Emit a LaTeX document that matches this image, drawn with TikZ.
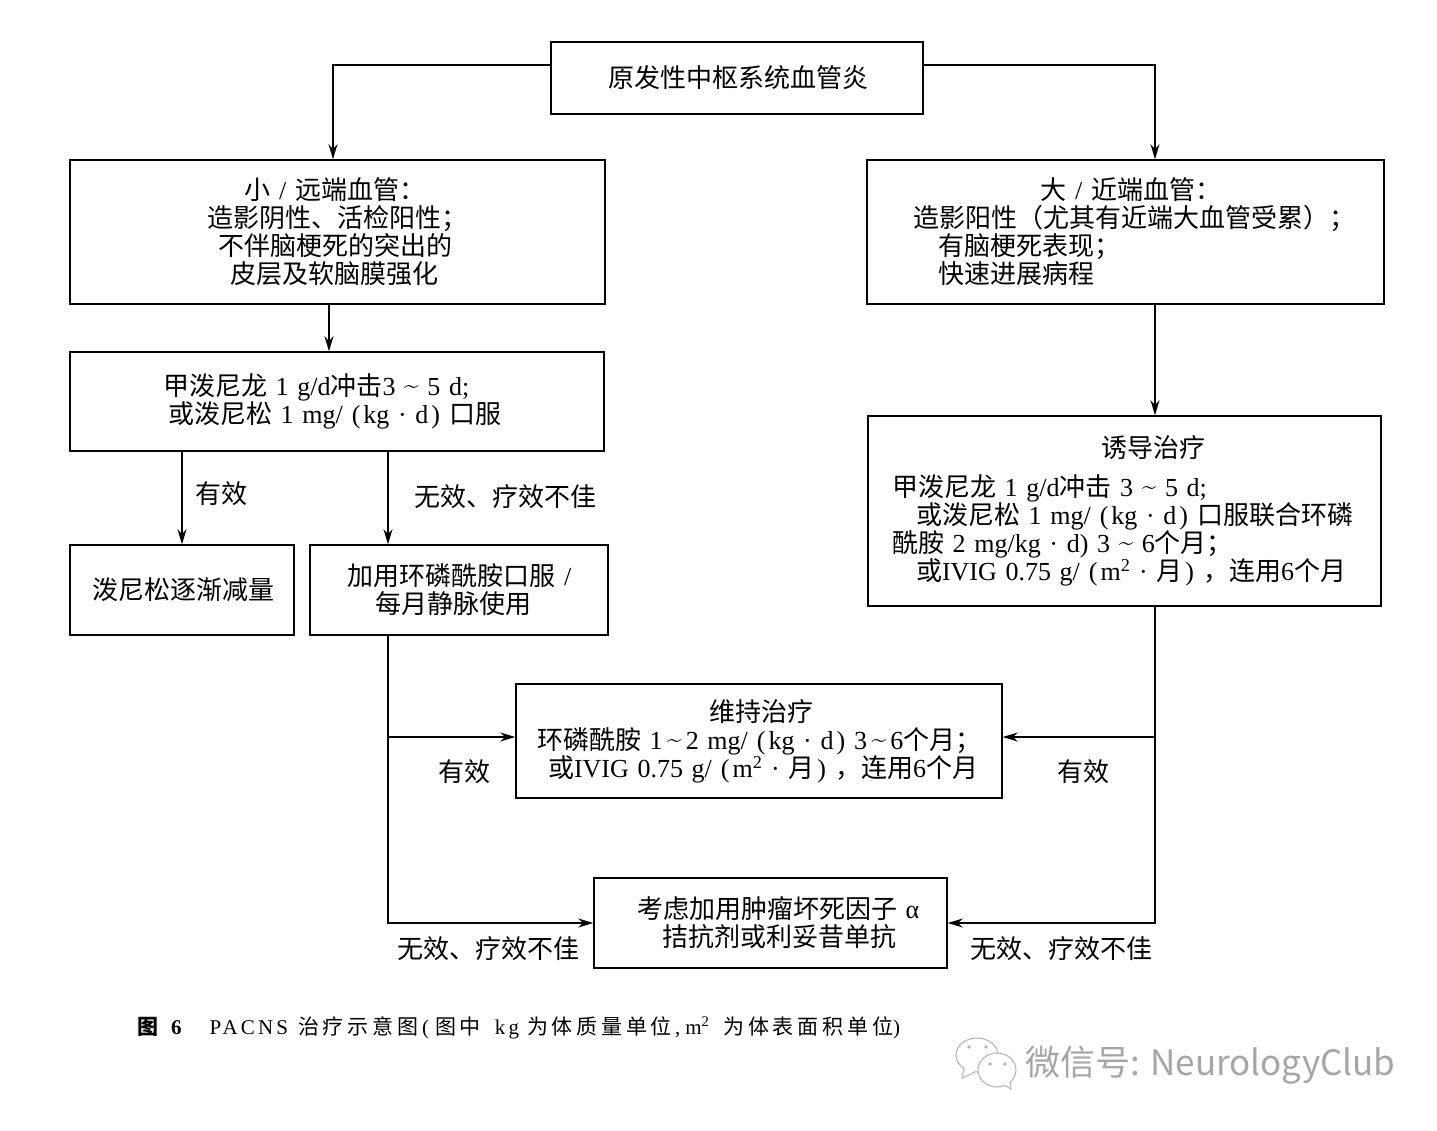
\documentclass[tikz,border=0pt]{standalone}
\usepackage{fontspec}
\usepackage{tikz}
\usetikzlibrary{arrows.meta}
\newfontfamily\cjk{Noto Sans CJK SC}
\newfontfamily\capcjk[LetterSpace=18]{Noto Sans CJK SC}
\newfontfamily\caplat[LetterSpace=15]{Liberation Serif}
\newfontfamily\serif{Liberation Serif}
\newcommand{\la}[1]{{\serif #1}}
\newcommand{\ind}[1]{\hspace*{#1pt}}
\newcommand{\tl}{{\rmfamily\raisebox{2pt}{\textasciitilde}}}
\newcommand{\sla}{\hspace{9pt}\la{/}\hspace{9pt}}
\newcommand{\lp}{\hspace{9pt}\la{(}\hspace{3pt}}
\newcommand{\rp}{\hspace{3pt}\la{)}\hspace{9pt}}
\tikzset{
    box/.style={draw,line width=1.5pt,inner xsep=0pt,inner ysep=0pt,align=left,font=\cjk\fontsize{26}{28}\selectfont},
    lbl/.style={inner sep=0pt,font=\cjk\fontsize{26}{28}\selectfont},
    arr/.style={line width=1.5pt,-{Stealth[length=15pt,width=9pt]}},
    bub/.style={draw=black!30,line width=1pt,fill=white}
}
\begin{document}
\begin{tikzpicture}[x=1pt,y=-1pt]
    \useasboundingbox (0,0) rectangle (1437,1131);
    \node[box,minimum height=72pt,text width=372pt] (top) at (737,78) {\ind{57}原发性中枢系统血管炎};
    \node[box,minimum height=144pt,text width=535pt] (small) at (337.5,232) {\ind{174}小\sla 远端血管：\\\ind{137}造影阴性、活检阳性；\\\ind{148}不伴脑梗死的突出的\\\ind{160}皮层及软脑膜强化};
    \node[box,minimum height=144pt,text width=517pt] (large) at (1125.5,232) {\ind{173}大\sla 近端血管：\\\ind{46}造影阳性（尤其有近端大血管受累）；\\\ind{71}有脑梗死表现；\\\ind{71}快速进展病程};
    \node[box,minimum height=99pt,text width=534pt] (methyl) at (337,401.5) {\ind{93}甲泼尼龙\la{ 1 g/d}冲击\la{3 \tl\ 5 d;}\\\ind{98}或泼尼松\la{ 1 mg/}\lp\la{kg · d}\rp 口服};
    \node[box,minimum height=90pt,text width=224pt] (taper) at (182,590) {\ind{22}泼尼松逐渐减量};
    \node[box,minimum height=90pt,text width=298pt] (cyc) at (459,590) {\ind{37}加用环磷酰胺口服\sla\\\ind{65}每月静脉使用};
    \node[box,minimum height=190pt,text width=513pt] (induct) at (1124.5,511) {\ind{233}诱导治疗\\[11pt]\ind{24}甲泼尼龙\la{ 1 g/d}冲击\la{ 3 \tl\ 5 d;}\\\ind{48}或泼尼松\la{ 1 mg/}\lp\la{kg · d}\rp 口服联合环磷\\\ind{24}酰胺\la{ 2 mg/kg · d) 3 \tl\ 6}个月；\\\ind{48}或\la{IVIG 0.75 g/}\lp\la{m\textsuperscript{2} · }月\rp，连用\la{6}个月};
    \node[box,minimum height=114pt,text width=486pt] (maint) at (759,741) {\ind{193}维持治疗\\\ind{21}环磷酰胺\la{ 1\,\tl\,2 mg/}\lp\la{kg · d}\rp\la{3\,\tl\,6}个月；\\\ind{32}或\la{IVIG 0.75 g/}\lp\la{m\textsuperscript{2} · }月\rp，连用\la{6}个月};
    \node[box,minimum height=90pt,text width=353pt] (tnf) at (770.5,923) {\ind{43}考虑加用肿瘤坏死因子\la{ α}\\\ind{68}拮抗剂或利妥昔单抗};
    \coordinate (jl) at (388,737);
    \coordinate (jr) at (1155,737);
    \draw[arr] ([yshift=13pt]top.west) -| ([xshift=-4.5pt]small.north);
    \draw[arr] ([yshift=13pt]top.east) -| ([xshift=29.5pt]large.north);
    \draw[arr] ([xshift=-8.5pt]small.south) -- ([xshift=-8pt]methyl.north);
    \draw[arr] ([xshift=29.5pt]large.south) -- ([xshift=30.5pt]induct.north);
    \draw[arr] (taper.north |- methyl.south) -- (taper.north);
    \draw[arr] ([xshift=-71pt]cyc.north |- methyl.south) -- ([xshift=-71pt]cyc.north);
    \draw[arr] ([xshift=-71pt]cyc.south) |- (tnf.west);
    \draw[arr] ([xshift=30.5pt]induct.south) |- (tnf.east);
    \draw[arr] (jl) -- ([yshift=4pt]maint.west);
    \draw[arr] (jr) -- ([yshift=4pt]maint.east);
    \node[lbl] (yes1) at (221,494) {有效};
    \node[lbl] (no1) at (505,497) {无效、疗效不佳};
    \node[lbl] (yes2) at (464,772) {有效};
    \node[lbl] (yes3) at (1083,772) {有效};
    \node[lbl] (no2) at (488,949) {无效、疗效不佳};
    \node[lbl] (no3) at (1061,949) {无效、疗效不佳};
    \node[anchor=base west,inner sep=0pt,font=\fontsize{21}{22}\selectfont] (cap) at (137,1034) {{\cjk\bfseries 图}\hspace{13pt}{\serif\bfseries 6}\hspace{28pt}{\caplat PACNS}\hspace{10pt}{\capcjk 治疗示意图}\hspace{4pt}{\caplat(}\hspace{6pt}{\capcjk 图中}\hspace{14pt}{\caplat kg}\hspace{8pt}{\capcjk 为体质量单位}\hspace{3pt}{\caplat,}\hspace{5pt}{\caplat m\textsuperscript{2}}\hspace{14pt}{\capcjk 为体表面积单位}{\caplat)}};
    \fill[bub] (977,1055) ellipse (21 and 17);
    \filldraw[bub] (964,1068) -- (962,1078) -- (975,1072);
    \fill[bub] (997,1070) ellipse (19 and 17);
    \filldraw[bub] (1004,1085) -- (1011,1089) -- (1010,1081);
    \foreach \x/\y in {969/1047,986/1047,990/1064,1005/1064}
        \fill[black!30] (\x,\y) circle (1.8);
    \node[anchor=west,inner sep=0pt,text=black!35,font=\cjk\fontsize{35}{38}\selectfont] (mark) at (1025,1065) {微信号: NeurologyClub};
\end{tikzpicture}
\end{document}
